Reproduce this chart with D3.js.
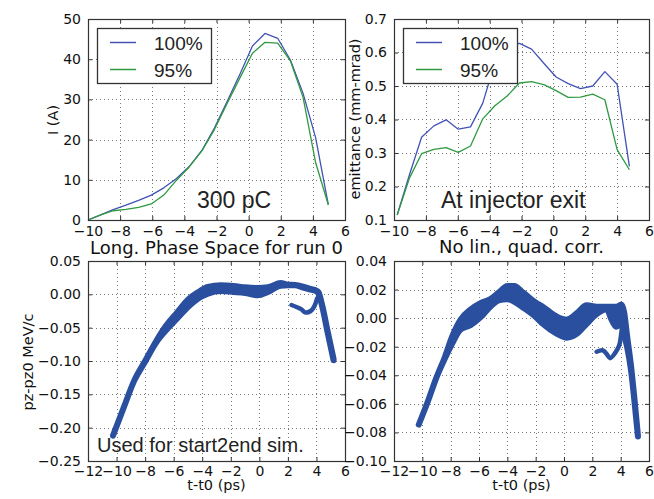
<!DOCTYPE html>
<html>
<head>
<meta charset="utf-8">
<script src="https://cdn.jsdelivr.net/npm/d3@7"></script>
<style>
body{margin:0;background:#fff}
svg{display:block}
.tick text{font-family:"DejaVu Sans";font-size:14px;fill:#111}
.lbl{font-family:"DejaVu Sans";fill:#111}
.note{font-family:"Liberation Sans";fill:#222}
</style>
</head>
<body>
<div id="chart"></div>
<script>
// current profile, I (A)
const curT = [-10, -9.21, -8.43, -7.64, -6.85, -6.06, -5.28, -4.49, -3.70, -2.91, -2.13, -1.34, -0.55, 0.24, 1.02, 1.81, 2.60, 3.39, 4.17, 4.96]
const cur100 = [0, 1.3, 2.6, 3.7, 4.9, 6.2, 8.0, 10.3, 13.3, 17.3, 22.9, 29.5, 36.2, 43.3, 46.4, 45.2, 39.8, 31.5, 20.5, 3.8]
const cur95 = [0, 1.25, 2.3, 2.65, 3.15, 4.0, 6.2, 9.9, 13.2, 17.2, 22.5, 29.0, 35.3, 41.5, 44.2, 44.0, 39.6, 30.5, 14.3, 3.8]

// slice emittance (mm-mrad)
const emitT = [-9.8, -9.03, -8.27, -7.50, -6.73, -5.97, -5.20, -4.43, -3.67, -2.90, -2.13, -1.37, -0.60, 0.17, 0.93, 1.70, 2.47, 3.23, 4.00, 4.77]
const emit100 = [0.115, 0.235, 0.347, 0.381, 0.399, 0.371, 0.378, 0.449, 0.57, 0.62, 0.627, 0.61, 0.568, 0.527, 0.507, 0.492, 0.50, 0.543, 0.505, 0.26]
const emit95 = [0.115, 0.225, 0.298, 0.311, 0.316, 0.302, 0.321, 0.402, 0.441, 0.470, 0.509, 0.513, 0.504, 0.486, 0.466, 0.467, 0.476, 0.459, 0.31, 0.25]

const legendLabels = ["100%", "95%"]

// longitudinal phase space, run 0 : band envelope (MeV/c)
const psT1 = [-10.25, -9.5, -8.75, -8.0, -7.25, -6.5, -5.75, -5.0, -4.3, -3.6, -2.7, -1.8, -1.0, -0.1, 0.6, 1.5, 2.0, 2.5, 3.0, 3.5, 4.0, 4.15, 4.4, 4.8, 5.2]
const psUp1 = [-0.212, -0.170, -0.129, -0.100, -0.071, -0.046, -0.027, -0.008, 0.003, 0.011, 0.0135, 0.0125, 0.0105, 0.0095, 0.0105, 0.017, 0.0145, 0.014, 0.012, 0.0085, 0.0055, 0.003, -0.016, -0.057, -0.097]
const psLo1 = [-0.212, -0.170, -0.129, -0.101, -0.073, -0.053, -0.036, -0.019, -0.0065, 0.001, 0.005, 0.0035, 0.002, -0.0015, 0.0035, 0.013, 0.0135, 0.0135, 0.0105, 0.0075, 0.0045, 0.001, -0.018, -0.059, -0.099]
const hookT1 = [2.25, 2.6, 2.95, 3.2, 3.6, 3.85, 4.05]
const hookV1 = [-0.016, -0.019, -0.0225, -0.027, -0.025, -0.018, -0.006]

// no lin., quad. correction
const psT2 = [-10.25, -9.6, -9.0, -8.4, -7.9, -7.3, -6.6, -5.9, -5.2, -4.6, -4.0, -3.5, -2.9, -2.0, -1.5, -0.5, 0.2, 0.9, 1.6, 2.3, 3.0, 3.4, 3.7, 4.05, 4.25, 4.45, 4.75, 4.95, 5.22]
const psUp2 = [-0.0745, -0.058, -0.0415, -0.027, -0.013, -0.001, 0.006, 0.0105, 0.0133, 0.018, 0.0225, 0.0225, 0.018, 0.011, 0.008, 0.001, -0.001, 0.0034, 0.009, 0.008, 0.008, 0.008, 0.008, 0.0095, 0.004, -0.012, -0.035, -0.054, -0.0822]
const psLo2 = [-0.0745, -0.058, -0.0415, -0.028, -0.018, -0.008, -0.005, 0.0005, 0.008, 0.0125, 0.0132, 0.0115, 0.0075, 0.0008, -0.004, -0.011, -0.0137, -0.011, -0.004, 0.0028, 0.0063, -0.002, -0.006, -0.004, -0.012, -0.020, -0.038, -0.056, -0.0828]
const hookT2 = [2.3, 2.75, 3.0, 3.25, 3.6, 3.9, 4.05, 4.15]
const hookV2 = [-0.0235, -0.0225, -0.025, -0.028, -0.0245, -0.019, -0.01, 0.0]

const tTicksTop = [-10, -8, -6, -4, -2, 0, 2, 4, 6]
const tTicksBot = [-12, -10, -8, -6, -4, -2, 0, 2, 4, 6]
const curTicks = [0, 10, 20, 30, 40, 50]
const emitTicks = [0.1, 0.2, 0.3, 0.4, 0.5, 0.6, 0.7]
const ps1Ticks = [-0.25, -0.20, -0.15, -0.10, -0.05, 0.00, 0.05]
const ps2Ticks = [-0.10, -0.08, -0.06, -0.04, -0.02, 0.00, 0.02, 0.04]

const blue = "#4253b4", green = "#2f9a40", dots = "#2b4f9f"

const svg = d3.select("#chart").append("svg")
	.attr("width", 654)
	.attr("height", 499)

// one set of axes, matplotlib classic look: inward ticks on all sides, dotted grid
function panel(box, xDom, yDom, xTicks, yTicks, xFmt, yFmt, xPad){
	const x = d3.scaleLinear().domain(xDom).range([box.x0, box.x1])
	const y = d3.scaleLinear().domain(yDom).range([box.y1, box.y0])
	const g = svg.append("g")

	const grid = g.append("g")
		.attr("stroke", "#777")
		.attr("stroke-width", 1)
		.attr("stroke-dasharray", "1,3")
	grid.selectAll(".gx").data(xTicks).enter().append("line")
		.attr("x1", d=>Math.round(x(d))+0.5).attr("x2", d=>Math.round(x(d))+0.5)
		.attr("y1", box.y0).attr("y2", box.y1)
	grid.selectAll(".gy").data(yTicks).enter().append("line")
		.attr("y1", d=>Math.round(y(d))+0.5).attr("y2", d=>Math.round(y(d))+0.5)
		.attr("x1", box.x0).attr("x2", box.x1)

	const plot = g.append("g")
	const top = g.append("g")

	function ax(sel){
		sel.select(".domain").remove()
		sel.selectAll(".tick line").attr("stroke", "#333")
	}
	top.append("g").attr("transform", "translate(0,"+box.y1+")")
		.call(d3.axisBottom(x).tickValues(xTicks).tickSize(-4).tickPadding(xPad).tickFormat(xFmt)).call(ax)
	top.append("g").attr("transform", "translate(0,"+box.y0+")")
		.call(d3.axisTop(x).tickValues(xTicks).tickSize(-4).tickFormat("")).call(ax)
	top.append("g").attr("transform", "translate("+box.x0+",0)")
		.call(d3.axisLeft(y).tickValues(yTicks).tickSize(-4).tickPadding(7).tickFormat(yFmt)).call(ax)
	top.append("g").attr("transform", "translate("+box.x1+",0)")
		.call(d3.axisRight(y).tickValues(yTicks).tickSize(-4).tickFormat("")).call(ax)
	top.selectAll(".tick text").attr("fill", "#111").style("font-size", "14px").style("font-family", "DejaVu Sans")

	top.append("rect")
		.attr("x", box.x0+0.5).attr("y", box.y0+0.5)
		.attr("width", box.x1-box.x0).attr("height", box.y1-box.y0)
		.attr("fill", "none").attr("stroke", "#333").attr("stroke-width", 1.2)

	return {x:x, y:y, plot:plot, top:top, box:box}
}

function drawLine(p, xs, ys, color){
	const line = d3.line().x((d,i)=>p.x(xs[i])).y(d=>p.y(d))
	p.plot.append("path")
		.datum(ys)
		.attr("d", line)
		.attr("fill", "none")
		.attr("stroke", color)
		.attr("stroke-width", 1.3)
		.attr("stroke-linejoin", "round")
}

function legend(p, lx, ly){
	const lg = p.top.append("g").attr("transform", "translate("+lx+","+ly+")")
	lg.append("rect")
		.attr("x", 0.5).attr("y", 0.5).attr("width", 114).attr("height", 55)
		.attr("fill", "#fff").attr("stroke", "#333").attr("stroke-width", 1.3)
	const rows = lg.selectAll(".row").data(legendLabels).enter().append("g")
		.attr("transform", (d,i)=>"translate(0,"+(14+i*27)+")")
	rows.append("line")
		.attr("x1", 13).attr("x2", 39).attr("y1", 0.5).attr("y2", 0.5)
		.attr("stroke", (d,i)=>i==0?blue:green).attr("stroke-width", 1.5)
	rows.append("text")
		.attr("class", "note")
		.attr("x", 57).attr("y", 7.5)
		.style("font-size", "19px")
		.text(d=>d)
}

// dense scatter cloud drawn as a filled envelope, stroked to give the marker width
function band(p, ts, up, lo){
	const area = d3.area()
		.x((d,i)=>p.x(ts[i]))
		.y0((d,i)=>p.y(lo[i]))
		.y1(d=>p.y(d))
		.curve(d3.curveMonotoneX)
	p.plot.append("path")
		.datum(up)
		.attr("d", area)
		.attr("fill", dots)
		.attr("stroke", dots)
		.attr("stroke-width", 6)
		.attr("stroke-linejoin", "round")
}

function hook(p, ts, vs){
	const line = d3.line().x((d,i)=>p.x(ts[i])).y(d=>p.y(d)).curve(d3.curveCatmullRom)
	p.plot.append("path")
		.datum(vs)
		.attr("d", line)
		.attr("fill", "none")
		.attr("stroke", dots)
		.attr("stroke-width", 4.5)
		.attr("stroke-linecap", "round")
}

function yLabel(x, y, txt){
	svg.append("text").attr("class", "lbl")
		.attr("transform", "translate("+x+","+y+") rotate(-90)")
		.attr("text-anchor", "middle")
		.style("font-size", "14.5px")
		.text(txt)
}

function textAt(x, y, txt, cls, size, anchor){
	svg.append("text").attr("class", cls)
		.attr("x", x).attr("y", y)
		.attr("text-anchor", anchor || "start")
		.style("font-size", size)
		.text(txt)
}

const fInt = d3.format("d"), f1 = d3.format(".1f"), f2 = d3.format(".2f")

// top left: current
const p1 = panel({x0:88, x1:345, y0:19, y1:220}, [-10, 6], [0, 50], tTicksTop, curTicks, fInt, fInt, 6)
drawLine(p1, curT, cur100, blue)
drawLine(p1, curT, cur95, green)
legend(p1, 97, 28)
yLabel(58, 120, "I (A)")
textAt(197, 208, "300 pC", "note", "23px")

// top right: emittance
const p2 = panel({x0:394, x1:649, y0:19, y1:220}, [-10, 6], [0.1, 0.7], tTicksTop, emitTicks, fInt, f1, 6)
drawLine(p2, emitT, emit100, blue)
drawLine(p2, emitT, emit95, green)
legend(p2, 403, 28)
yLabel(360, 119, "emittance (mm-mrad)")
textAt(441, 208, "At injector exit", "note", "23px")

// bottom left: phase space
const p3 = panel({x0:88, x1:345, y0:261, y1:461}, [-12, 6], [-0.25, 0.05], tTicksBot, ps1Ticks, fInt, f2, 5)
band(p3, psT1, psUp1, psLo1)
hook(p3, hookT1, hookV1)
yLabel(33, 362, "pz-pz0 MeV/c")
textAt(216.5, 490, "t-t0 (ps)", "lbl", "14.5px", "middle")
textAt(216.5, 254, "Long. Phase Space for run 0", "lbl", "18px", "middle")
textAt(97, 452, "Used for start2end sim.", "note", "20px")

// bottom right: phase space without correction
const p4 = panel({x0:394, x1:649, y0:261, y1:461}, [-12, 6], [-0.10, 0.04], tTicksBot, ps2Ticks, fInt, f2, 5)
band(p4, psT2, psUp2, psLo2)
hook(p4, hookT2, hookV2)
textAt(521.5, 490, "t-t0 (ps)", "lbl", "14.5px", "middle")
textAt(521.5, 253, "No lin., quad. corr.", "lbl", "18px", "middle")
</script>
</body>
</html>
